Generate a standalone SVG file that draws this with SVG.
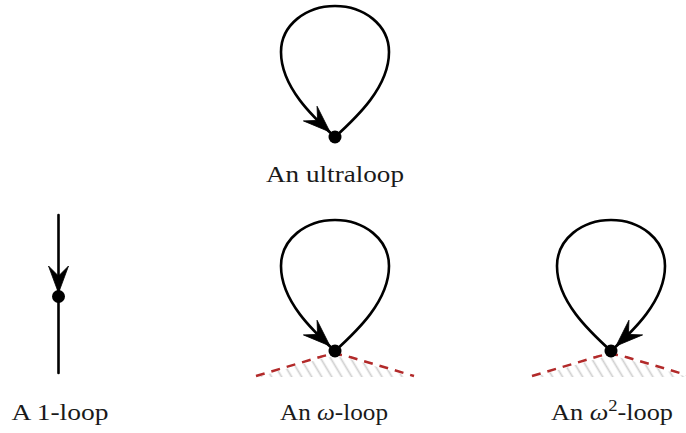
<svg xmlns="http://www.w3.org/2000/svg" width="686" height="433" viewBox="0 0 686 433">
<style>
.edge{fill:none;stroke:#000;stroke-width:2.6;stroke-linecap:round}
.dot{fill:#000}
.arr{fill:#000;stroke:#000;stroke-width:0.8;stroke-linejoin:round}
.wall{fill:none;stroke:#b22a2a;stroke-width:2.5;stroke-dasharray:9 7}
.lbl{font-family:"Liberation Serif","DejaVu Serif",serif;font-size:24px;fill:#1a1a1a;text-anchor:middle}
</style>
<defs>
<path id="arrow" d="M0,0 L-27,-10 L-17,0 L-27,10 Z"/>
<pattern id="hatch" patternUnits="userSpaceOnUse" width="8.6" height="10" patternTransform="rotate(-31)">
<line x1="4.3" y1="-1" x2="4.3" y2="11" stroke="#d0d0d0" stroke-width="1.7"/>
</pattern>
</defs>
<g id="walls">
<path d="M258,377 L320,359 Q335,354.5 350,359 L412,377 Z" fill="url(#hatch)"/>
<path d="M534,377 L596,359 Q611,354.5 626,359 L688,377 Z" fill="url(#hatch)"/>
<path class="wall" d="M256,376 L320,357 Q335,352 350,357 L414,376"/>
<path class="wall" d="M532,376 L596,357 Q611,352 626,357 L690,376"/>
</g>
<g id="connectors">
<path class="edge" d="M335,137 C357,117 389,87 389,52 C389,25 364,6 335,6 C306,6 281,25 281,52 C281,87 313,117 335,137"/>
<use href="#arrow" class="arr" transform="translate(330,132) rotate(43)"/>
<path class="edge" d="M58.5,215 L58.5,373"/>
<use href="#arrow" class="arr" transform="translate(58.5,293) rotate(90)"/>
<path class="edge" d="M335,351 C357,331 389,301 389,266 C389,239 364,220 335,220 C306,220 281,239 281,266 C281,301 313,331 335,351"/>
<use href="#arrow" class="arr" transform="translate(330,346) rotate(43)"/>
<path class="edge" d="M611,351 C589,331 557,301 557,266 C557,239 582,220 611,220 C640,220 665,239 665,266 C665,301 633,331 611,351"/>
<use href="#arrow" class="arr" transform="translate(616,346) rotate(137)"/>
</g>
<g id="ultraloop">
<circle class="dot" cx="335" cy="137" r="6.5"/>
<text class="lbl" x="335" y="182" textLength="138" lengthAdjust="spacingAndGlyphs">An ultraloop</text>
</g>
<g id="one-loop">
<circle class="dot" cx="58.5" cy="296.5" r="6.5"/>
<text class="lbl" x="60" y="420" textLength="97" lengthAdjust="spacingAndGlyphs">A 1-loop</text>
</g>
<g id="omega-loop">
<circle class="dot" cx="335" cy="351" r="6.5"/>
<text class="lbl" x="334" y="420" textLength="108" lengthAdjust="spacingAndGlyphs">An <tspan font-style="italic">ω</tspan>-loop</text>
</g>
<g id="omega2-loop">
<circle class="dot" cx="611" cy="351" r="6.5"/>
<text class="lbl" x="612" y="420" textLength="122" lengthAdjust="spacingAndGlyphs">An <tspan font-style="italic">ω</tspan><tspan font-size="17" dy="-9">2</tspan><tspan dy="9">-loop</tspan></text>
</g>
</svg>
